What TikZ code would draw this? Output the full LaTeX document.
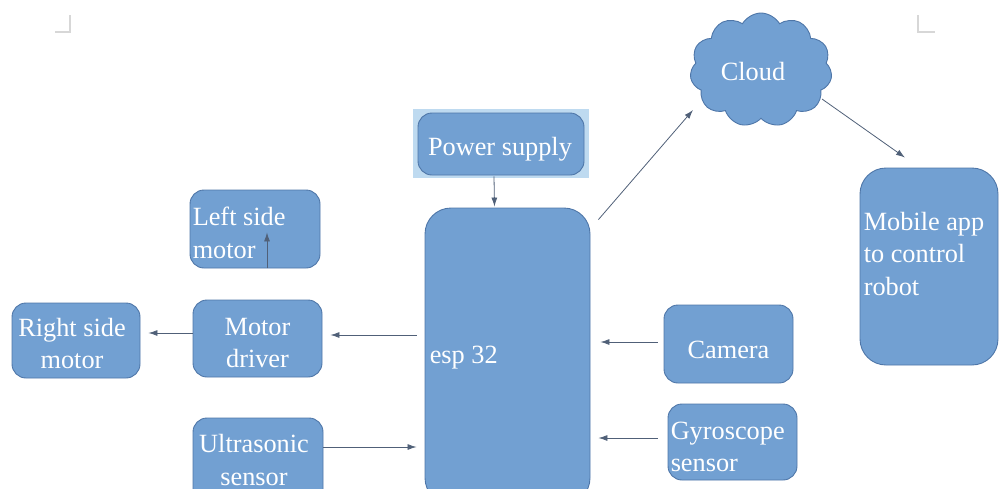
\documentclass[tikz,border=0pt]{standalone}
\usepackage{fontspec}
\setmainfont{Liberation Serif}
\usetikzlibrary{shapes.symbols,arrows.meta,calc}
\definecolor{boxfill}{RGB}{114,160,210}
\definecolor{boxline}{RGB}{78,118,168}
\definecolor{arrcol}{RGB}{80,96,120}
\definecolor{halo}{RGB}{190,218,240}
\definecolor{markcol}{RGB}{215,215,215}
\tikzset{
  blk/.style={draw=boxline, line width=0.9pt, fill=boxfill, rounded corners=14pt, inner sep=0pt},
  txt/.style={text=white, font=\fontsize{26.3}{32.5}\selectfont, align=center, inner sep=0pt},
  txtl/.style={txt, align=left},
  arr/.style={draw=arrcol, line width=0.8pt, -{Latex[length=9pt,width=6pt]}},
  cropmark/.style={draw=markcol, line width=1.2pt}
}
\begin{document}
\begin{tikzpicture}[x=1pt,y=-1pt]
\useasboundingbox (0,0) rectangle (999,488);
\clip (0,0) rectangle (999,488);
% crop marks
\draw[cropmark] (70,15) -- (70,32) -- (55,32);
\draw[cropmark] (918,15) -- (918,32) -- (935,32);
% halo behind power supply
\fill[halo] (413,109) rectangle (589,178);
% shapes
\node[blk, minimum width=166pt, minimum height=62pt] (ps) at (501,144) {};
\node[blk, rounded corners=26pt, minimum width=165pt, minimum height=296pt] (esp) at (507.5,356) {};
\node[blk, minimum width=130pt, minimum height=78pt] (lsm) at (255,229) {};
\node[blk, minimum width=129pt, minimum height=77pt] (md) at (257.5,338.5) {};
\node[blk, minimum width=128pt, minimum height=75pt] (rsm) at (76,340.5) {};
\node[blk, minimum width=130pt, minimum height=88pt] (us) at (258,462) {};
\node[blk, minimum width=129pt, minimum height=78pt] (cam) at (728.5,344) {};
\node[blk, minimum width=129pt, minimum height=76pt] (gyro) at (732.5,442) {};
\node[blk, rounded corners=26pt, minimum width=138pt, minimum height=197pt] (app) at (929,266.5) {};
\node[cloud, cloud puffs=11, cloud puff arc=120, aspect=1.3, draw=boxline, line width=0.9pt,
      fill=boxfill, minimum width=142pt, minimum height=114pt, inner sep=0pt] (cloud) at (761,70) {};
% texts
\node[txt] (pst) at ($(ps.center)+(-1,5)$) {Power supply};
\node[txtl, anchor=west] (espt) at ($(esp.west)+(5,2)$) {esp 32};
\node[txtl, anchor=west] (lsmt) at ($(lsm.west)+(3,4)$) {Left side\\motor};
\node[txt] (mdt) at ($(md.center)+(0,4.5)$) {Motor\\driver};
\node[txt] (rsmt) at ($(rsm.center)+(-4,3)$) {Right side\\motor};
\node[txt] (ust) at ($(us.center)+(-4,-2)$) {Ultrasonic\\sensor};
\node[txt] (camt) at ($(cam.center)+(0,6)$) {Camera};
\node[txtl, anchor=west] (gyrot) at ($(gyro.west)+(3,5)$) {Gyroscope\\sensor};
\node[txtl, anchor=north west] (appt) at ($(app.north west)+(4,44)$) {Mobile app\\to control\\robot};
\node[txt] (cloudt) at ($(cloud.center)+(-8,2)$) {Cloud};
% connectors
\draw[arr] ($(ps.south)+(-7,1)$) -- ($(esp.north)+(-13,-1)$);
\draw[arr] ($(esp.north east)+(8,12)$) -- ($(cloud.center)+(-68,40)$);
\draw[arr] ($(cloud.center)+(61,29)$) -- ($(app.north)+(-24,-10)$);
\draw[arr] ($(esp.west)+(-8,-21)$) -- ($(md.east)+(8,-3.5)$);
\draw[arr] ($(md.west)+(0,-5.5)$) -- ($(rsm.east)+(8,-7.5)$);
\draw[arr] ($(us.east)+(0,-15)$) -- ($(esp.west)+(-8,91)$);
\draw[arr] ($(cam.west)+(-6,-2)$) -- ($(esp.east)+(10,-14)$);
\draw[arr] ($(gyro.west)+(-10,-4)$) -- ($(esp.east)+(8,82)$);
\draw[arr] ($(lsm.south)+(12,0)$) -- ($(lsm.south)+(12,-36)$);
\end{tikzpicture}
\end{document}
